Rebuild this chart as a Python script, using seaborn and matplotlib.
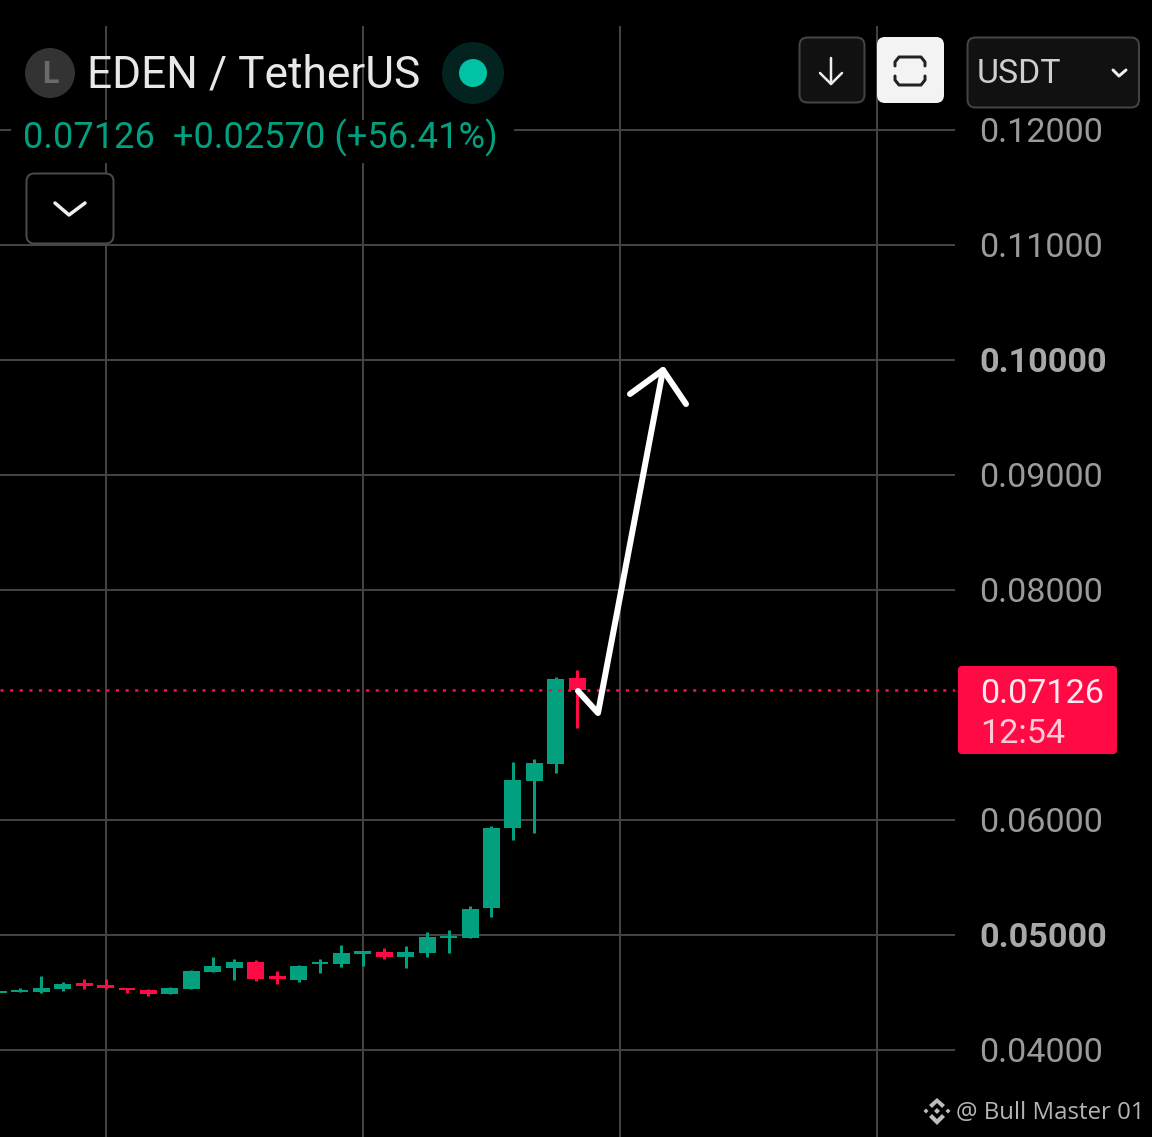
import numpy as np
import pandas as pd
import matplotlib
matplotlib.use("Agg")
import matplotlib.pyplot as plt
from matplotlib.patches import FancyBboxPatch, Circle, Polygon, Rectangle
import seaborn as sns

opens  = [.04496,.04502,.04507,.04528,.04583,.04563,.04542,.04522,.04484,.04528,.04678,.04713,.04765,.04641,
          .04609,.04745,.04750,.04835,.04852,.04811,.04841,.04971,.04971,.05232,.05933,.06337,.06484,.07232]
closes = [.04513,.04519,.04537,.04571,.04559,.04542,.04519,.04484,.04537,.04690,.04728,.04763,.04617,.04617,
          .04728,.04765,.04841,.04858,.04809,.04855,.04980,.04994,.05229,.05933,.06350,.06496,.07226,.07126]
highs  = [.04513,.04542,.04641,.04589,.04617,.04617,.04542,.04530,.04550,.04696,.04806,.04789,.04785,.04684,
          .04742,.04789,.04910,.04858,.04890,.04904,.05029,.05041,.05248,.05950,.06502,.06530,.07246,.07304]
lows   = [.04496,.04502,.04493,.04516,.04528,.04533,.04493,.04472,.04484,.04528,.04678,.04606,.04597,.04577,
          .04594,.04667,.04724,.04728,.04789,.04713,.04811,.04841,.04971,.05154,.05826,.05884,.06406,.06797]
price_ticks = [.04,.05,.06,.08,.09,.10,.11,.12]
bold_ticks = [.05,.10]
time_grid = [5,17,29,41]
last_price = .07126
title = "EDEN / TetherUS"
quote = "0.07126  +0.02570 (+56.41%)"
tag_price = "0.07126"
tag_time = "12:54"
currency = "USDT"
credit = "@ Bull Master 01"

GREEN, RED = "#02a07f", "#ff0a45"
W, H = 1152, 1137
sns.set_theme(style="dark", rc={"figure.facecolor": "black", "axes.facecolor": "black",
                                "savefig.facecolor": "black"})
plt.rcParams["font.family"] = ["Roboto", "DejaVu Sans"]

df = pd.DataFrame({"idx": np.arange(len(opens)), "open": opens, "close": closes, "high": highs, "low": lows})
df["bottom"] = df[["open", "close"]].min(axis=1)
df["height"] = (df["close"] - df["open"]).abs()
df["up"] = df["close"] >= df["open"]

fig = plt.figure(figsize=(W / 100, H / 100), dpi=100)
ax = fig.add_axes([0, 0, 955 / W, (H - 26) / H])
ax.set_facecolor("black")

GRID = "#434343"
lw2 = 2 * 0.72
for up, color in [(True, GREEN), (False, RED)]:
    sub = df[df["up"] == up]
    ax.vlines(sub["idx"], sub["low"], sub["high"], color=color, lw=3 * 0.72, zorder=3)
    sns.barplot(data=sub, x="idx", y="height", bottom=sub["bottom"].values, native_scale=True,
                width=0.79, color=color, saturation=1, linewidth=0, ax=ax, zorder=3)

ax.set_xlim(0.075, 44.62)
ax.set_ylim(.03243, .12904)
ax.set_xticks(time_grid)
ax.set_xticklabels([])
ax.set_yticks(price_ticks)
ax.set_yticklabels([f"{t:.5f}" for t in price_ticks])
ax.set_xlabel("")
ax.set_ylabel("")
ax.grid(True, color=GRID, lw=lw2, zorder=1)
ax.set_axisbelow(True)
for s in ax.spines.values():
    s.set_visible(False)
ax.yaxis.tick_right()
ax.tick_params(axis="y", length=0, pad=17.7, labelsize=24.6, labelcolor="#9a9a9a")
ax.tick_params(axis="x", length=0)
for lab, t in zip(ax.get_yticklabels(), price_ticks):
    if t in bold_ticks:
        lab.set_fontweight("bold")
        lab.set_color("#a8a8a8")
ax.axhline(last_price, color=RED, lw=2.6 * .72, ls=(0, (1.2, 2.5)), zorder=4)

# screen-space overlay for the app's interface elements
ov = fig.add_axes([0, 0, 1, 1], facecolor="none")
ov.set_xlim(0, W)
ov.set_ylim(H, 0)
ov.axis("off")

def box(x0, y0, x1, y1, face, edge="#444444", r=8, lw=2):
    ov.add_patch(FancyBboxPatch((x0 + r, y0 + r), x1 - x0 - 2 * r, y1 - y0 - 2 * r,
                                boxstyle=f"round,pad={r},rounding_size={r}", fc=face, ec=edge, lw=lw * .72))

def line(pts, color="#eeeeee", lw=3, **kw):
    xs, ys = zip(*pts)
    ov.plot(xs, ys, color=color, lw=lw * .72, solid_capstyle="round", solid_joinstyle="round", **kw)

ov.add_patch(Rectangle((11, 120), 503, 43, fc="black", ec="none"))
ov.add_patch(Circle((50, 73), 25, fc="#333333", ec="none"))
ov.text(50, 74, "L", color="#6a6a6a", fontsize=22, fontweight="bold", ha="center", va="center")
ov.text(87, 75, title, color="#e8e8e8", fontsize=31.9, va="center", ha="left")
ov.add_patch(Circle((473, 73), 31, fc="#02231f", ec="none"))
ov.add_patch(Circle((473, 73), 14, fc="#00c2a5", ec="none"))
ov.text(23, 138, quote, color=GREEN, fontsize=26.1, va="center", ha="left")

box(26.5, 173.5, 113.5, 243.5, "black", "#4a4a4a")
line([(55, 203), (69, 215), (85, 203)], lw=3.5)
box(799.5, 37.5, 864.5, 102.5, "#111111")
line([(831, 58), (831, 84)], lw=2.5)
line([(820, 73), (831, 84), (842, 73)], lw=2.5)
box(877, 37, 944, 103, "#f3f3f3", "none", lw=0)
line([(895, 66), (895, 62), (899, 57), (921, 57), (925, 62), (925, 66)], color="#222222", lw=3)
line([(895, 76), (895, 80), (899, 85), (921, 85), (925, 80), (925, 76)], color="#222222", lw=3)
box(967.5, 37.5, 1139, 107.5, "#111111")
ov.text(977, 74, currency, color="#cfcfcf", fontsize=24.4, va="center", ha="left")
line([(1113, 70), (1119, 76), (1126, 70)], lw=3)

box(958, 666, 1117, 754, RED, "none", r=4, lw=0)
ov.text(980, 694, tag_price, color="#ffe9ee", fontsize=24.6, va="center", ha="left")
ov.text(980, 734, tag_time, color="#ffc9d6", fontsize=24.6, va="center", ha="left")

line([(578, 691), (598, 713), (663, 370)], color="white", lw=6)
line([(630, 394), (663, 370), (686, 404)], color="white", lw=6)

for cx, cy, r in [(937, 1111, 3), (926, 1111, 2.5), (948, 1111, 2.5)]:
    ov.add_patch(Polygon([(cx - r, cy), (cx, cy - r), (cx + r, cy), (cx, cy + r)], fc="#bdbdbd", ec="none"))
ov.add_patch(Polygon([(929, 1105), (937, 1098), (945, 1105), (942, 1108), (937, 1103), (932, 1108)], fc="#bdbdbd", ec="none"))
ov.add_patch(Polygon([(929, 1117), (937, 1125), (945, 1117), (942, 1114), (937, 1119), (932, 1114)], fc="#bdbdbd", ec="none"))
ov.text(956, 1113, credit, color="#b4b4b4", fontsize=17.3, family="Open Sans", va="center", ha="left")

fig.savefig("out.png", dpi=100, facecolor="black")
